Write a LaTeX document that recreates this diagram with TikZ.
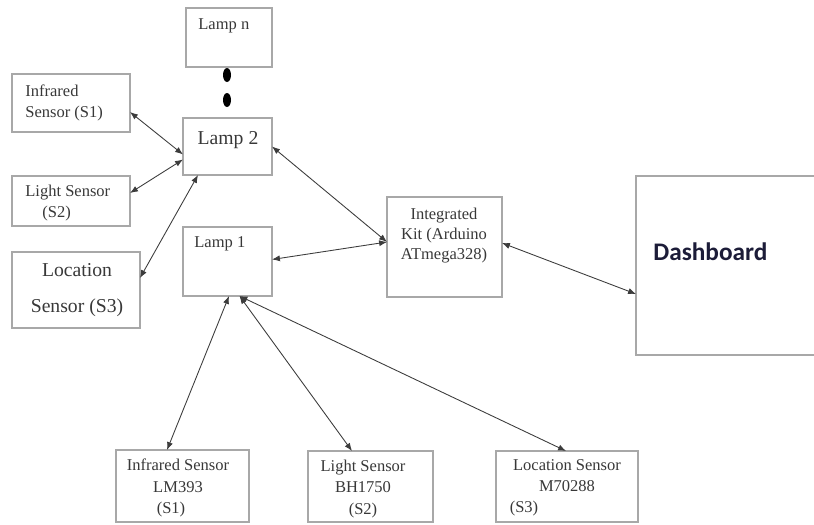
\documentclass[tikz,border=0pt]{standalone}
\usepackage{fontspec}
\setmainfont{Liberation Serif}
\newfontfamily\dashfont{Carlito}
\usepackage{tikz}
\usetikzlibrary{arrows.meta,calc}
\newlength\unitpx
\setlength\unitpx{0.02cm}
\definecolor{boxgray}{HTML}{A8A8A8}
\definecolor{linegray}{HTML}{3C3C3C}
\definecolor{txtgray}{HTML}{383838}
\definecolor{dashnavy}{HTML}{1C1C38}

\begin{document}
\begin{tikzpicture}[x=0.02cm, y=-0.02cm,
  box/.style={draw=boxgray, line width=1.1pt, inner sep=0pt, outer sep=0pt},
  link/.style={{Latex[length=4.5pt,width=3.5pt]}-{Latex[length=4.5pt,width=3.5pt]}, draw=linegray, line width=0.5pt},
  txt/.style={inner sep=0pt, text=txtgray, font=\fontsize{9.4}{12}\selectfont}]
\useasboundingbox (0,0) rectangle (814,524);
% Lamps
\node[box, minimum width=86\unitpx, minimum height=59\unitpx] (lampn) at (229,37.5) {};
\node[box, minimum width=89\unitpx, minimum height=57\unitpx] (lamp2) at (227.5,146.5) {};
\node[box, minimum width=89\unitpx, minimum height=69\unitpx] (lamp1) at (227.5,261.5) {};
\node[txt, anchor=west] (tlampn) at (198,26) {Lamp n};
\node[txt, font=\fontsize{11.2}{13}\selectfont] (tlamp2) at (228,140) {Lamp 2};
\node[txt, anchor=west] (tlamp1) at (194,244) {Lamp 1};
\fill[black] (227,75) ellipse (4 and 7);
\fill[black] (227,100) ellipse (4 and 7);
% Sensors of lamp 2
\node[box, minimum width=118\unitpx, minimum height=58\unitpx] (irs) at (71,103) {};
\node[box, minimum width=118\unitpx, minimum height=50\unitpx] (lts) at (71,201) {};
\node[box, minimum width=128\unitpx, minimum height=76\unitpx] (locs) at (76,290) {};
\node[txt, anchor=west, align=left] (tirs) at (25,102.5) {Infrared\\Sensor (S1)};
\node[txt, anchor=west, align=left] (tlts) at (25,203) {Light Sensor\\\hspace*{17\unitpx}(S2)};
\node[txt, align=center, font=\fontsize{11.2}{20.4}\selectfont] (tlocs) at (77,290) {Location\\Sensor (S3)};
% Integrated kit and dashboard
\node[box, minimum width=115\unitpx, minimum height=100\unitpx] (kit) at (444.5,247) {};
\node[txt, align=center, font=\fontsize{9.4}{11.6}\selectfont] (tkit) at (444,235.5) {Integrated\\Kit (Arduino\\ATmega328)};
\node[box, minimum width=194\unitpx, minimum height=179\unitpx] (dash) at (733,265.5) {};
\node[anchor=west, inner sep=0pt, text=dashnavy, font=\dashfont\bfseries\fontsize{14.4}{17}\selectfont] (tdash) at (653,252) {Dashboard};
% Sensors of lamp 1
\node[box, minimum width=133\unitpx, minimum height=72\unitpx] (irb) at (182.5,486) {};
\node[box, minimum width=125\unitpx, minimum height=71\unitpx] (ltb) at (370.5,486.5) {};
\node[box, minimum width=142\unitpx, minimum height=71\unitpx] (locb) at (567,486.5) {};
\node[txt, align=center] (tirb) at (178,488) {Infrared Sensor\\LM393\\(S1)\hspace*{14\unitpx}};
\node[txt, align=center] (tltb) at (363,489) {Light Sensor\\BH1750\\(S2)};
\node[txt, align=center] (tlocb) at (567,488) {Location Sensor\\M70288\\(S3)\hspace*{86\unitpx}};
% Links
\draw[link] ($(irs.east)+(0,9)$) -- ($(lamp2.west)+(0,8)$);
\draw[link] ($(lts.east)+(0,-8)$) -- ($(lamp2.west)+(0,13)$);
\draw[link] ($(locs.east)+(0,-12)$) -- ($(lamp2.south west)+(15,0)$);
\draw[link] (lamp2.east) -- ($(kit.west)+(0,-5)$);
\draw[link] ($(lamp1.east)+(0,-2)$) -- ($(kit.west)+(0,-5)$);
\draw[link] ($(kit.east)+(0,-4)$) -- ($(dash.west)+(0,28.5)$);
\draw[link] ($(lamp1.south)+(1.5,0)$) -- ($(irb.north)+(-15.5,0)$);
\draw[link] ($(lamp1.south)+(12,0)$) -- ($(ltb.north)+(-18.5,0)$);
\draw[link] ($(lamp1.south)+(12,0)$) -- ($(locb.north)+(-1,0)$);
\end{tikzpicture}
\end{document}
